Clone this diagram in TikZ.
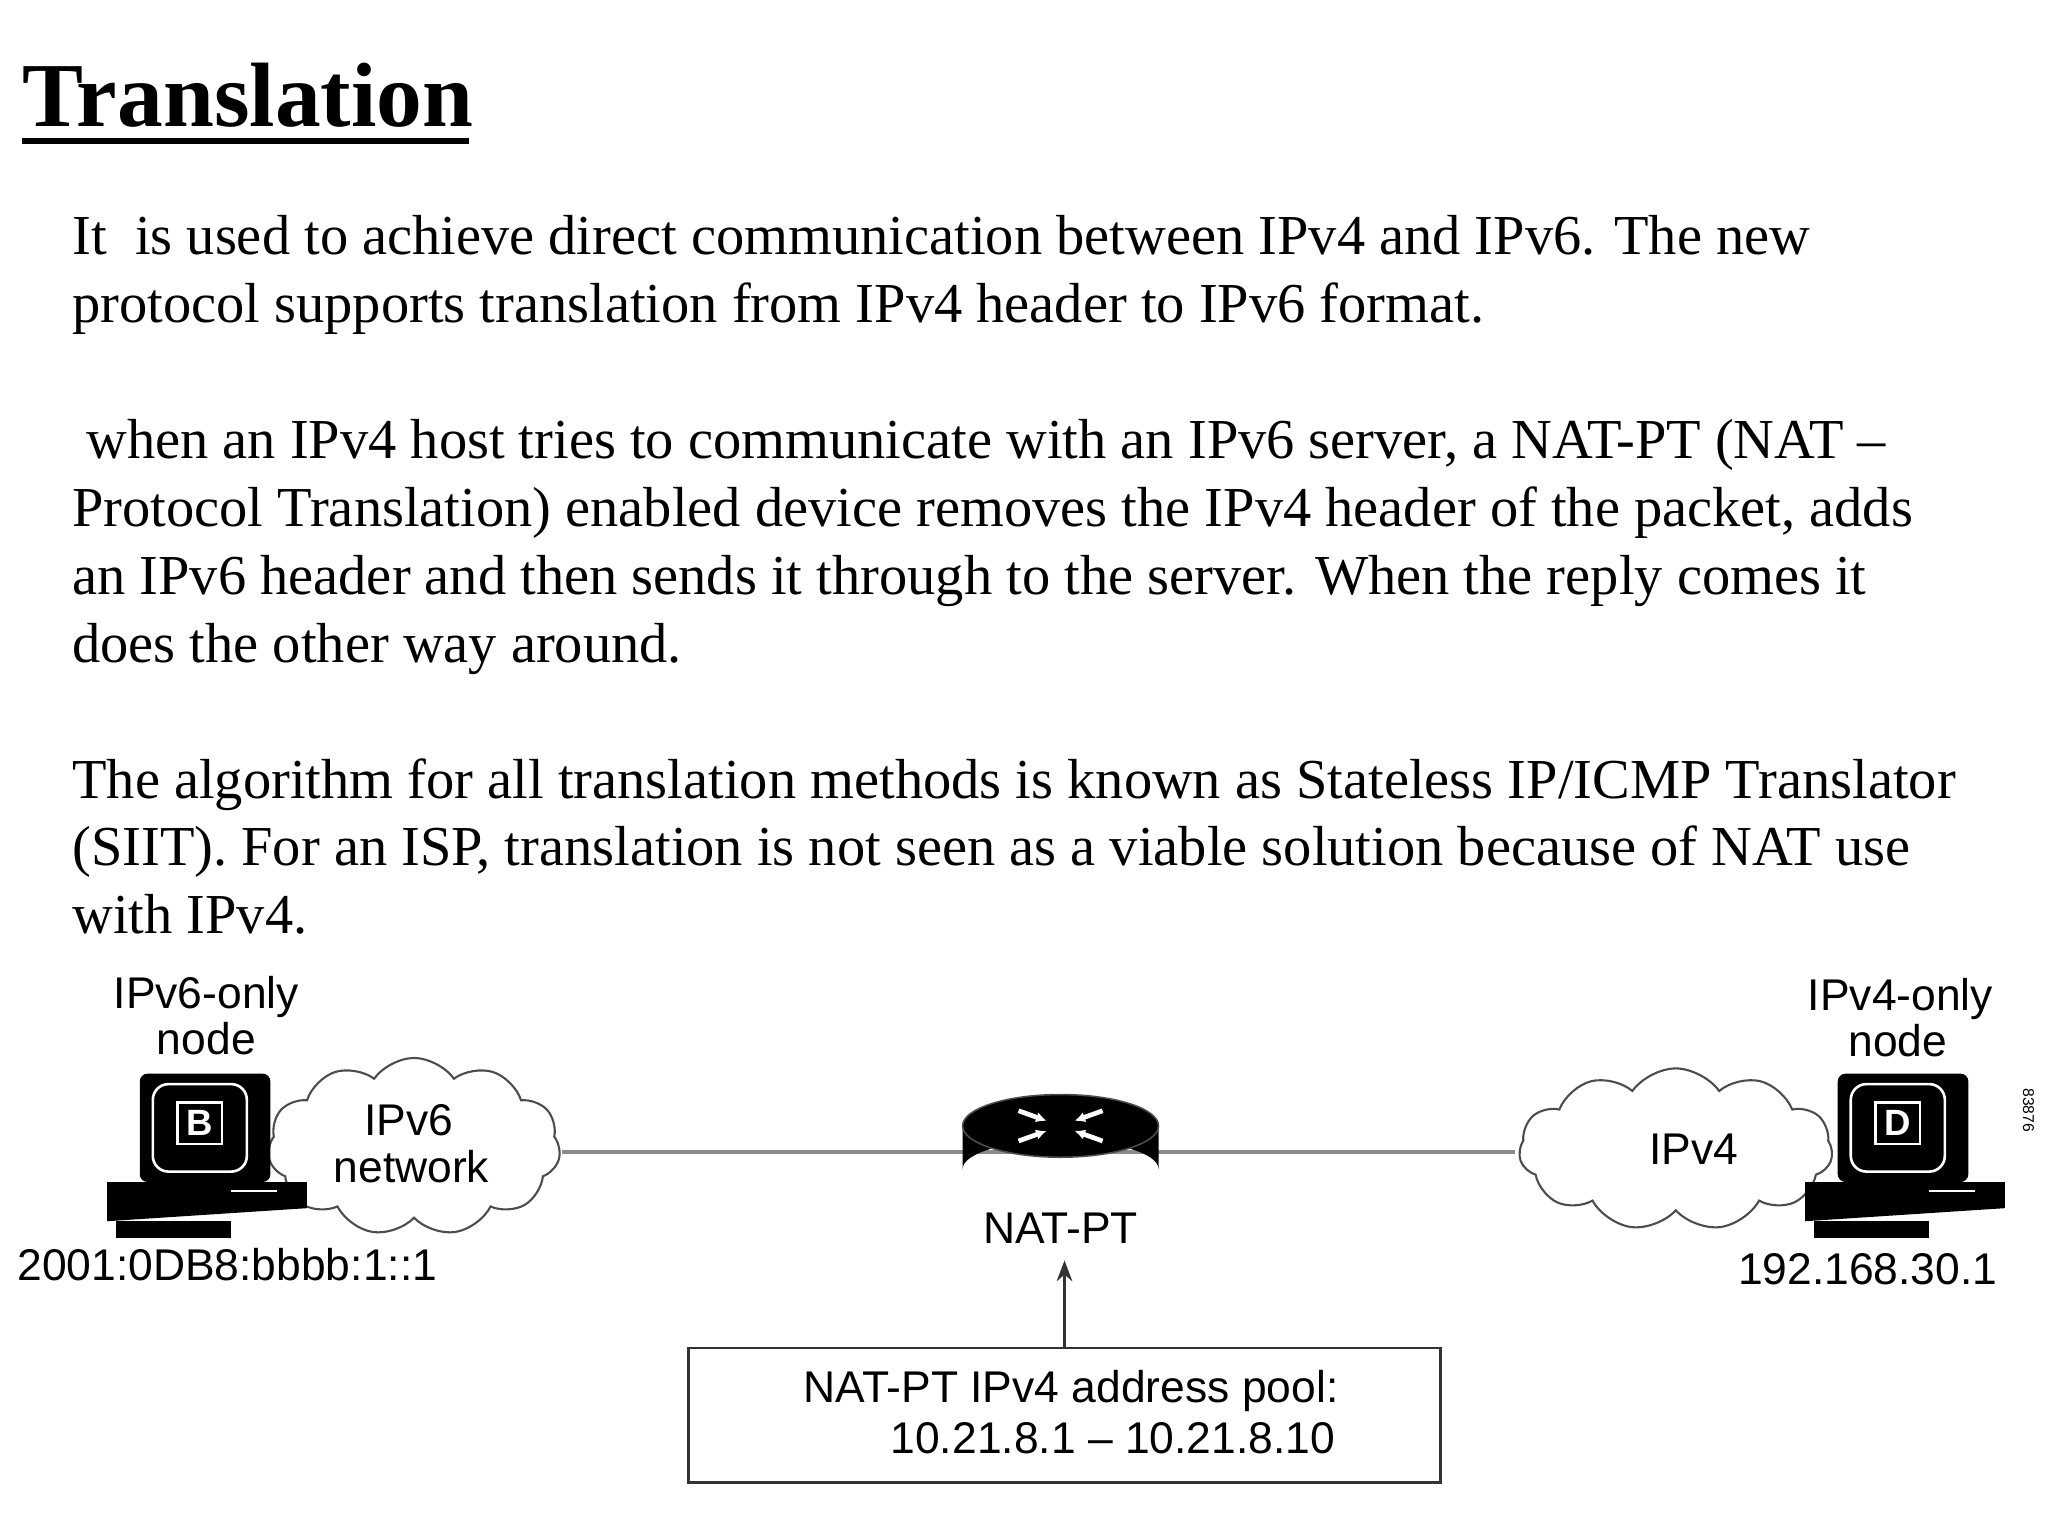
\documentclass[tikz,border=0pt]{standalone}
\usepackage{fontspec}
\setmainfont{Liberation Serif}
\newfontfamily\arial{Liberation Sans}
\usetikzlibrary{shapes.symbols,arrows.meta,calc}
\begin{document}
\begin{tikzpicture}[x=0.5pt,y=-0.5pt,
  body/.style={anchor=base west,inner sep=0,font=\fontsize{21.6}{21.6}\selectfont},
  lbl/.style={inner sep=0,font=\arial\fontsize{17}{17}\selectfont},
  cld/.style={cloud,cloud puffs=11,cloud puff arc=110,draw=black!70,line width=0.8pt,fill=white,aspect=1.6,inner sep=0},
]
\useasboundingbox (0,0) rectangle (1568,1176);
\node[anchor=base west,inner sep=0,font=\fontsize{35}{35}\selectfont\bfseries] (title) at (17,97) {Translation};
\draw[line width=2pt] (17,108) -- (359,108);
\node[body] (l1) at (55,195) {It\ \ is used to achieve direct communication between IPv4 and IPv6. The new};
\node[body] (l2) at (55,247) {protocol supports translation from IPv4 header to IPv6 format.};
\node[body] (l3) at (55,351) {\ when an IPv4 host tries to communicate with an IPv6 server, a NAT-PT (NAT \textendash};
\node[body] (l4) at (55,403) {Protocol Translation) enabled device removes the IPv4 header of the packet, adds};
\node[body] (l5) at (55,455) {an IPv6 header and then sends it through to the server. When the reply comes it};
\node[body] (l6) at (55,507) {does the other way around.};
\node[body] (l7) at (55,611) {The algorithm for all translation methods is known as Stateless IP/ICMP Translator};
\node[body] (l8) at (55,663) {(SIIT). For an ISP, translation is not seen as a viable solution because of NAT use};
\node[body] (l9) at (55,715) {with IPv4.};

% line
\coordinate (la) at (430,882);
\coordinate (lb) at (1160,882);
\draw[black!45,line width=1.5pt] (la) -- (lb);

% clouds
\node[cld,minimum width=112pt,minimum height=68pt] (c6) at (317,878) {};
\node[lbl] at (313,858) {IPv6};
\node[lbl] at (315,893) {network};
\node[cld,minimum width=120pt,minimum height=62pt] (c4) at (1283,880) {};
\node[lbl] at (1297,880) {IPv4};

% computers
\foreach \cx/\L/\nm in {157/B/pcb,1457/D/pcd}{
  \begin{scope}[shift={(\cx,0)}]
   \fill[black,rounded corners=3] (-50,822) rectangle (50,905);
   \draw[white,line width=1pt,rounded corners=6] (-40,830) rectangle (32,897);
   \fill[black] (-75,905) -- (78,905) -- (78,925) -- (-75,935) -- cycle;
   \fill[black] (-68,935) rectangle (20,948);
   \draw[white,line width=1pt] (20,912) -- (55,912);
   \node[fill=black,draw=white,line width=1pt,text=white,inner sep=1pt,minimum width=17pt,minimum height=16pt,font=\arial\bfseries\fontsize{14}{14}\selectfont] (\nm) at (-4,860) {\L};
  \end{scope}}
\node[lbl] at (158,763) {IPv6-only};
\node[lbl] at (158,795) {node};
\node[lbl] at (174,968) {2001:0DB8:bbbb:1::1};
\node[lbl] at (1455,765) {IPv4-only};
\node[lbl] at (1453,797) {node};
\node[lbl] at (1430,972) {192.168.30.1};
\node[lbl,rotate=-90,font=\arial\fontsize{6}{6}\selectfont] at (1553,850) {83876};

% router
\fill[black] (737,862) -- (737,895) arc[start angle=180,end angle=360,x radius=75,y radius=22] -- (887,862) -- cycle;
\fill[black] (812,862) ellipse[x radius=75,y radius=24];
\draw[black!70,line width=0.6pt] (812,862) ellipse[x radius=75,y radius=24];
\foreach \a in {40,140,220,320}{
  \draw[white,line width=1.8pt,-{Latex[length=4pt,width=4pt]}] ($(812,862)+(\a:42 and 18)$) -- ($(812,862)+(\a:14 and 6)$);
}
\node[inner sep=0,minimum width=75pt,minimum height=35pt] (rt) at (812,880) {};
\node[lbl] (natpt) at (812,940) {NAT-PT};

% pool box
\node[draw=black!80,line width=1pt,minimum width=288pt,minimum height=51.5pt,inner sep=0] (pool) at (815,1083.5) {};
\node[lbl] at (820,1065) {NAT-PT IPv4 address pool:};
\node[lbl] at (852,1101) {10.21.8.1 \textendash\ 10.21.8.10};
\draw[black!80,line width=1pt,-{Stealth[length=8pt,width=6pt]}] (pool.north) -- ++(0,-66);
\end{tikzpicture}
\end{document}
